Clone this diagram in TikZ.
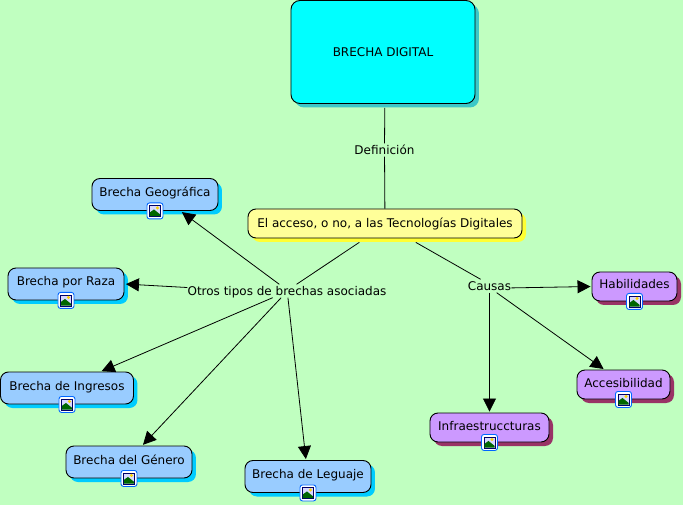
\documentclass[tikz,border=0pt]{standalone}
\usepackage{fontspec}
\setmainfont{DejaVu Sans}
\usetikzlibrary{shadows, arrows.meta}
\definecolor{fondo}{HTML}{C0FFC0}
\definecolor{celeste}{HTML}{00FFFF}
\definecolor{azul}{HTML}{99CCFF}
\definecolor{morado}{HTML}{CC99FF}
\definecolor{amarillo}{HTML}{FFFF99}
\definecolor{sombratema}{HTML}{3CC8C8}
\definecolor{sombraidea}{HTML}{FFFF33}
\definecolor{sombrabrecha}{HTML}{00CCFF}
\definecolor{sombracausa}{HTML}{993366}
\tikzstyle{caja}=[rectangle,draw,line width=0.9pt,rounded corners=8pt,font=\fontsize{12}{14}\selectfont,inner xsep=0pt,inner ysep=5pt]
\tikzstyle{tema}=[caja,fill=celeste,rounded corners=9pt,minimum width=184pt,minimum height=103pt,copy shadow={shadow xshift=4pt,shadow yshift=-4pt,draw=none,fill=sombratema}]
\tikzstyle{idea}=[caja,fill=amarillo,minimum width=274pt,minimum height=29pt,text height=11pt,text depth=3pt,copy shadow={shadow xshift=4pt,shadow yshift=-4pt,draw=none,fill=sombraidea}]
\tikzstyle{brecha}=[caja,fill=azul,text height=13pt,text depth=9pt,copy shadow={shadow xshift=4pt,shadow yshift=-4pt,draw=none,fill=sombrabrecha}]
\tikzstyle{causa}=[caja,fill=morado,text height=12pt,text depth=7pt,copy shadow={shadow xshift=4pt,shadow yshift=-4pt,draw=none,fill=sombracausa}]
\tikzstyle{enlace}=[font=\fontsize{12}{14}\selectfont,inner sep=0pt,text height=11pt,text depth=2pt]
\tikzstyle{linea}=[draw,line width=0.8pt]
\tikzstyle{flecha}=[linea,-{Triangle[length=13pt,width=13pt]},shorten >=1pt]
\tikzset{pics/imagen/.style={code={
	\draw[fill=white,draw=blue!60!cyan,line width=0.9pt,rounded corners=2.5pt] (-8,-8) rectangle (8,8);
	\draw[fill=blue!15,draw=blue!40!black,line width=0.7pt] (-5.5,-5.5) rectangle (5.5,5.5);
	\fill[green!40!black] (-5.2,-5.2) -- (-5.2,-1.5) -- (-1,1.5) -- (5.2,-3.5) -- (5.2,-5.2) -- cycle;
	\fill[yellow!70!orange] (2.5,3) circle (1.7);
}}}

\begin{document}
\begin{tikzpicture}[x=1pt, y=1pt, node distance=100pt]
		\useasboundingbox (-383,52) rectangle (300,-453);
		\fill[fondo] (-383,52) rectangle (300,-453);
		
		\node (main) [tema] {BRECHA DIGITAL};
		\node (def) [enlace, below of=main, xshift=1.5pt, yshift=2pt] {Definición};
		\node (acceso) [idea, below of=main, xshift=2pt, yshift=-71.5pt] {El acceso, o no, a las Tecnologías Digitales};
		\node (otros) [enlace, below of=acceso, xshift=-98pt, yshift=32.5pt] {Otros tipos de brechas asociadas};
		\node (causas) [enlace, below of=acceso, xshift=104.5pt, yshift=37.5pt] {Causas};
		
		\node (geo) [brecha, minimum width=126pt, left of=otros, xshift=-32pt, yshift=96.5pt] {Brecha Geográfica};
		\node (raza) [brecha, minimum width=116pt, left of=otros, xshift=-121pt, yshift=7pt] {Brecha por Raza};
		\node (ingresos) [brecha, minimum width=133pt, left of=otros, xshift=-120pt, yshift=-97pt] {Brecha de Ingresos};
		\node (genero) [brecha, minimum width=126pt, below of=otros, xshift=-158pt, yshift=-71pt] {Brecha del Género};
		\node (leguaje) [brecha, minimum width=126pt, below of=otros, xshift=21pt, yshift=-85.5pt] {Brecha de Leguaje};
		
		\node (habil) [causa, minimum width=85pt, right of=causas, xshift=45pt, yshift=-0.5pt] {Habilidades};
		\node (acces) [causa, minimum width=93pt, right of=causas, xshift=34pt, yshift=-98.5pt] {Accesibilidad};
		\node (infra) [causa, minimum width=119pt, below of=causas, yshift=-41.5pt] {Infraestruccturas};
		
		\foreach \n in {geo,raza,ingresos,genero,leguaje,habil,acces,infra}
			\pic at (\n.south) {imagen};
		
		\draw[linea, shorten <=4pt] (main.272) -- (def);
		\draw[linea] (def) -- (acceso);
		\draw[linea, shorten <=7pt] (acceso.217) -- (otros.35);
		\draw[linea, shorten <=8pt] (acceso.328) -- (causas.143);
		
		\draw[flecha, shorten >=2pt] (otros.139) -- (geo.327);
		\draw[flecha, shorten >=1.5pt] (otros.178) -- (raza.east);
		\draw[flecha] (otros.205) -- (ingresos.26);
		\draw[flecha] (otros.229) -- (genero.51);
		\draw[flecha] (otros.278) -- (leguaje.97);
		\draw[flecha] (causas.355) -- (habil.west);
		\draw[flecha] (causas.south) -- (infra.north);
		\draw[flecha] (causas.317) -- (acces.142);
		
\end{tikzpicture}
\end{document}
